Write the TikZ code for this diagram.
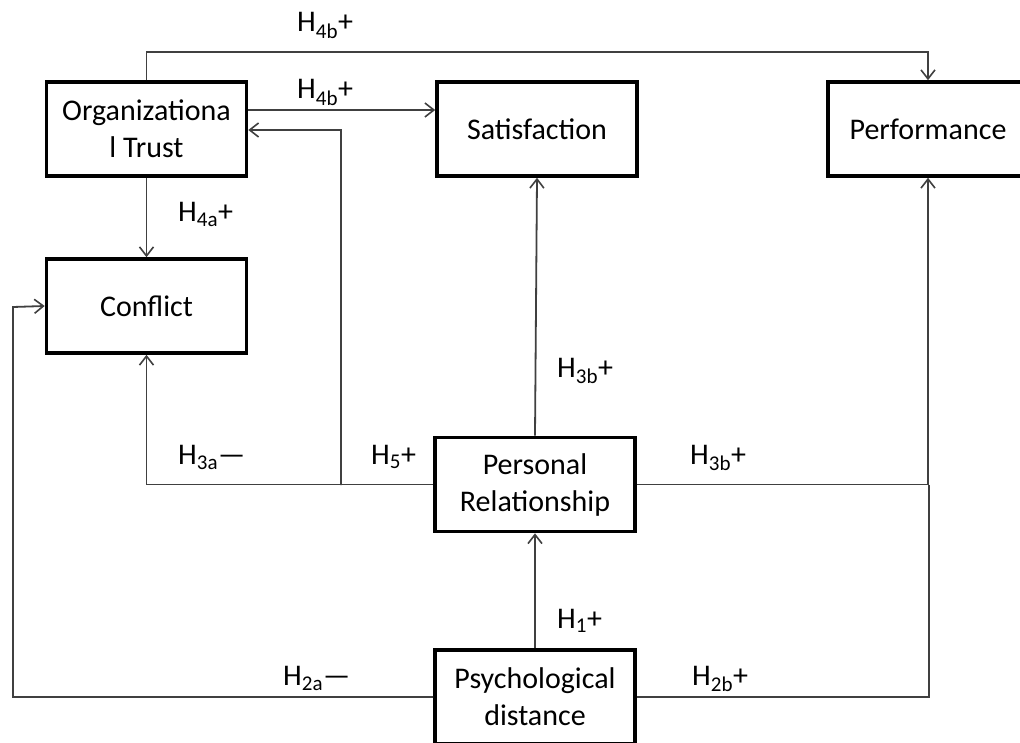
\documentclass[tikz,border=0pt]{standalone}
\usepackage{fontspec}
\setmainfont{Carlito}
\usetikzlibrary{arrows.meta}
\begin{document}
\begin{tikzpicture}[x=1pt,y=-1pt,
  box/.style={draw=black,line width=3.6pt,minimum width=200pt,minimum height=94pt,inner sep=0pt,align=center,font=\fontsize{30}{37}\selectfont},
  arr/.style={draw=black!75,line width=1.8pt,-{Straight Barb[length=9pt,width=14pt,line width=1.6pt]}},
  ln/.style={draw=black!75,line width=1.8pt},
  lab/.style={anchor=base west,inner sep=0pt,font=\fontsize{30}{36}\selectfont}]
\clip (0,0) rectangle (1020,743);
\fill[white] (0,0) rectangle (1020,743);
% boxes
\node[box] (OT) at (146.5,129) {Organizationa\\l Trust};
\node[box] (Sat) at (537,129) {Satisfaction};
\node[box] (Perf) at (928,129) {Performance};
\node[box] (Con) at (146.5,306) {Conflict};
\node[box] (PR) at (535,484.5) {Personal\\Relationship};
\node[box] (PD) at (535,697) {Psychological\\distance};
% junction coordinates
\coordinate (top) at (147,52);
\coordinate (j5) at (341,485);
\coordinate (lft) at (13,307);
\coordinate (jr) at (929,485);
% connectors
\draw[arr] (OT.north) |- (top) -| (Perf.north);
\draw[arr] ([yshift=19pt]OT.east) -- ([yshift=19pt]Sat.west);
\draw[arr] (PR.west) -| (j5) |- ([yshift=-1pt]OT.east);
\draw[arr] (PR.west) -| (Con.south);
\draw[arr] (OT.south) -- (Con.south |- Con.north);
\draw[arr] (PD.west) -| (lft) -- (Con.west);
\draw[arr] (PR.north) -- (Sat.south);
\draw[arr] (PR.east) -| (Perf.south);
\draw[ln] (PD.east) -| (jr);
\draw[arr] (PD.north) -- (PR.south);
% labels
\node[lab] (l1) at (297,32) {H\textsubscript{4b}+};
\node[lab] (l2) at (297,99) {H\textsubscript{4b}+};
\node[lab] (l3) at (178,222) {H\textsubscript{4a}+};
\node[lab] (l4) at (178,464) {H\textsubscript{3a}—};
\node[lab] (l5) at (371,464) {H\textsubscript{5}+};
\node[lab] (l6) at (283,685) {H\textsubscript{2a}—};
\node[lab] (l7) at (557,377) {H\textsubscript{3b}+};
\node[lab] (l8) at (690,464) {H\textsubscript{3b}+};
\node[lab] (l9) at (557,628) {H\textsubscript{1}+};
\node[lab] (l10) at (692,685) {H\textsubscript{2b}+};
\end{tikzpicture}
\end{document}
